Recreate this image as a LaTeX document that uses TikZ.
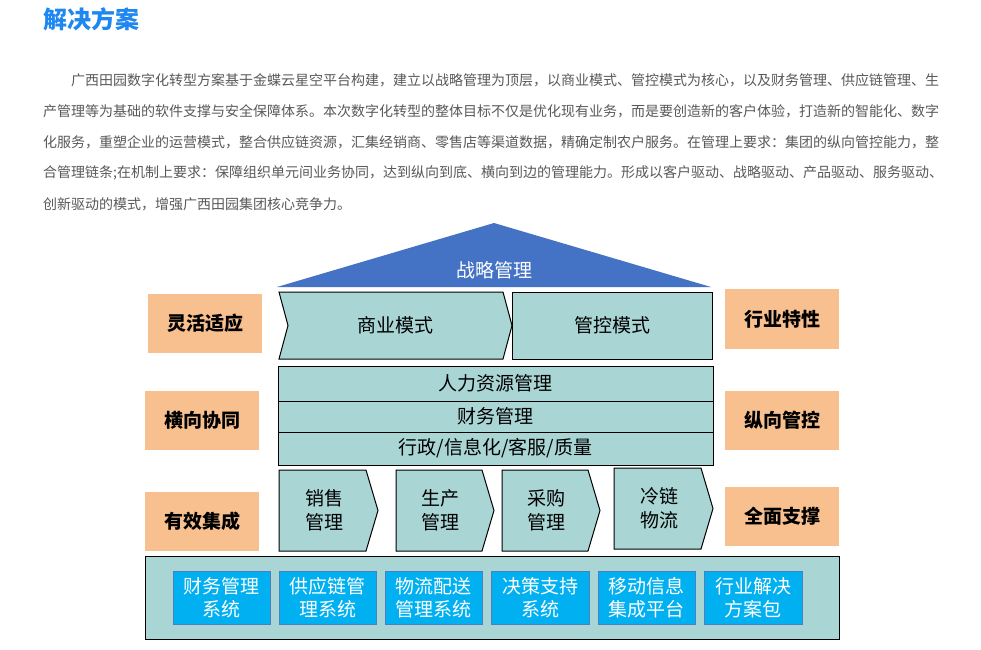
\documentclass[tikz,border=0pt]{standalone}
\usepackage{fontspec}
\setmainfont{Noto Sans CJK SC}
\definecolor{tealfill}{HTML}{AAD5D5}
\definecolor{orangefill}{HTML}{F8C08F}
\definecolor{bluefill}{HTML}{00B0F0}
\definecolor{blueedge}{HTML}{4E7EC0}
\definecolor{roofblue}{HTML}{4472C4}
\definecolor{titleblue}{HTML}{1E87F0}
\definecolor{paragray}{HTML}{595959}
\tikzset{
  orangebox/.style={fill=orangefill, text=black, inner sep=0pt, minimum width=114pt,
    font=\fontsize{19}{23}\selectfont\bfseries},
  tealshape/.style={fill=tealfill, draw=black, line width=1pt},
  tealtext/.style={inner sep=0pt, text=black, align=center, font=\fontsize{19}{24}\selectfont},
  bluebox/.style={fill=bluefill, draw=blueedge, line width=1pt, text=white, inner sep=0pt,
    minimum height=53pt, align=center, font=\fontsize{19}{23}\selectfont},
  paraline/.style={anchor=west, inner sep=0pt, text=paragray, font=\fontsize{14}{14}\selectfont},
}
\begin{document}
\begin{tikzpicture}[x=1pt,y=-1pt]
\useasboundingbox (0,0) rectangle (981,649);
\fill[white] (0,0) rectangle (981,649);

% title and paragraph
\node[anchor=west, inner sep=0pt, text=titleblue, font=\fontsize{24}{24}\selectfont\bfseries] (title) at (43,19.5) {解决方案};
\node[paraline] (p1) at (71,80.7) {广西田园数字化转型方案基于金蝶云星空平台构建，建立以战略管理为顶层，以商业模式、管控模式为核心，以及财务管理、供应链管理、生};
\node[paraline] (p2) at (43,111.5) {产管理等为基础的软件支撑与安全保障体系。本次数字化转型的整体目标不仅是优化现有业务，而是要创造新的客户体验，打造新的智能化、数字};
\node[paraline] (p3) at (43,142.3) {化服务，重塑企业的运营模式，整合供应链资源，汇集经销商、零售店等渠道数据，精确定制农户服务。在管理上要求：集团的纵向管控能力，整};
\node[paraline] (p4) at (43,173.1) {合管理链条;在机制上要求：保障组织单元间业务协同，达到纵向到底、横向到边的管理能力。形成以客户驱动、战略驱动、产品驱动、服务驱动、};
\node[paraline] (p5) at (43,203.9) {创新驱动的模式，增强广西田园集团核心竞争力。};

% roof
\fill[roofblue] (494,223) -- (711,287) -- (277,287) -- cycle;
\node[tealtext, text=white] (roof) at (494,270) {战略管理};

% top row
\draw[tealshape] (279,292) -- (503,292) -- (512,325.5) -- (503,359) -- (279,359) -- (288,325.5) -- cycle;
\node[tealtext] (biz) at (395,325.5) {商业模式};
\draw[tealshape] (512,292) rectangle (712,359);
\node[tealtext] (ctrl) at (612,325.5) {管控模式};

% bands
\draw[tealshape] (278,366) rectangle (713,465);
\draw[line width=1pt] (278,401) -- (713,401);
\draw[line width=1pt] (278,432) -- (713,432);
\node[tealtext] (hr) at (495.5,383.5) {人力资源管理};
\node[tealtext] (fin) at (495.5,416.5) {财务管理};
\node[tealtext] (adm) at (495.5,448.5) {行政/信息化/客服/质量};

% process chevrons
\draw[tealshape] (279,470) -- (366,470) -- (378,510.5) -- (366,551) -- (279,551) -- cycle;
\node[tealtext] (sales) at (324.5,510.5) {销售\\管理};
\draw[tealshape] (396,470) -- (482,470) -- (494,510.5) -- (482,551) -- (396,551) -- cycle;
\node[tealtext] (prod) at (440.5,510.5) {生产\\管理};
\draw[tealshape] (502,470) -- (588,470) -- (600,510.5) -- (588,551) -- (502,551) -- cycle;
\node[tealtext] (purch) at (546.5,510.5) {采购\\管理};
\draw[tealshape] (614,468) -- (701,468) -- (713,508.5) -- (701,549) -- (614,549) -- cycle;
\node[tealtext] (cold) at (659,508.5) {冷链\\物流};

% side boxes
\node[orangebox, minimum height=59pt] (flex) at (205,323.5) {灵活适应};
\node[orangebox, minimum height=59pt] (horiz) at (202,420.5) {横向协同};
\node[orangebox, minimum height=59pt] (integ) at (202,521.5) {有效集成};
\node[orangebox, minimum height=60pt] (indus) at (782,319) {行业特性};
\node[orangebox, minimum height=59pt] (vert) at (782,420.5) {纵向管控};
\node[orangebox, minimum height=59pt] (support) at (782,516.5) {全面支撑};

% bottom platform
\draw[tealshape] (145,556) rectangle (839,639);
\node[bluebox, minimum width=97pt] (s1) at (221.5,597.5) {财务管理\\系统};
\node[bluebox, minimum width=97pt] (s2) at (327.5,597.5) {供应链管\\理系统};
\node[bluebox, minimum width=97pt] (s3) at (433.5,597.5) {物流配送\\管理系统};
\node[bluebox, minimum width=98pt] (s4) at (540,597.5) {决策支持\\系统};
\node[bluebox, minimum width=97pt] (s5) at (646.5,597.5) {移动信息\\集成平台};
\node[bluebox, minimum width=98pt] (s6) at (753,597.5) {行业解决\\方案包};
\end{tikzpicture}
\end{document}
